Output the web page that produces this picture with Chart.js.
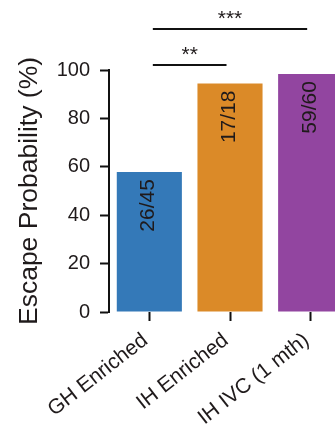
<!DOCTYPE html>
<html>
<head>
<meta charset="utf-8">
<script src="https://cdn.jsdelivr.net/npm/chart.js@4"></script>
<style>
  html, body { margin: 0; padding: 0; overflow: hidden; background: #fff; }
  #wrap { width: 335px; height: 434px; overflow: hidden; }
  canvas { display: block; }
</style>
</head>
<body>
<div id="wrap"><canvas id="c" width="351" height="434"></canvas></div>
<script>
// ---- data ----
const categories = ['GH Enriched', 'IH Enriched', 'IH IVC (1 mth)'];
const escapeProbability = [57.8, 94.4, 98.3];
const barLabels = ['26/45', '17/18', '59/60'];
const barColors = ['#3479b8', '#db8a28', '#9245a0'];
const yTicks = [0, 20, 40, 60, 80, 100];
const sigFrom = [0, 0];
const sigTo = [1, 2];
const sigHeights = [102, 117];
const sigLabels = ['**', '***'];

const textColor = '#1f1a1b';
const lineColor = '#111111';
const FONT = '"Liberation Sans", Arial, Helvetica, sans-serif';

const annotate = {
  id: 'annotate',
  afterDatasetsDraw(chart) {
    const ctx = chart.ctx;
    const x = chart.scales.x, y = chart.scales.y;
    const meta = chart.getDatasetMeta(0);
    ctx.save();
    ctx.fillStyle = textColor;
    ctx.font = '21px ' + FONT;
    meta.data.forEach((bar, i) => {
      ctx.save();
      ctx.translate(bar.x + 5, bar.y + 7);
      ctx.rotate(-Math.PI / 2);
      ctx.textAlign = 'right';
      ctx.textBaseline = 'alphabetic';
      ctx.fillText(barLabels[i], 0, 0);
      ctx.restore();
    });
    ctx.restore();
    ctx.save();
    ctx.strokeStyle = lineColor;
    ctx.lineWidth = 2;
    ctx.fillStyle = textColor;
    ctx.font = '21px ' + FONT;
    ctx.textAlign = 'center';
    ctx.textBaseline = 'alphabetic';
    for (let k = 0; k < sigLabels.length; k++) {
      const x1 = x.getPixelForValue(sigFrom[k]) + 3.5;
      const x2 = x.getPixelForValue(sigTo[k]) - 3.5;
      const yy = Math.round(y.getPixelForValue(sigHeights[k]));
      ctx.beginPath();
      ctx.moveTo(x1, yy);
      ctx.lineTo(x2, yy);
      ctx.stroke();
      ctx.fillText(sigLabels[k], (x1 + x2) / 2, yy - 4);
    }
    ctx.restore();
  }
};

new Chart(document.getElementById('c'), {
  type: 'bar',
  data: {
    labels: categories,
    datasets: [{
      data: escapeProbability,
      backgroundColor: barColors,
      borderWidth: 0,
      categoryPercentage: 1,
      barPercentage: 0.807
    }]
  },
  options: {
    responsive: false,
    animation: false,
    devicePixelRatio: 1,
    layout: { padding: { top: 70, left: 0, right: 0, bottom: 0 } },
    plugins: { legend: { display: false }, tooltip: { enabled: false } },
    scales: {
      x: {
        offset: true,
        border: { display: false },
        grid: { display: true, drawOnChartArea: false, drawTicks: true, tickLength: 9, tickWidth: 2, tickColor: lineColor, offset: false },
        ticks: {
          color: textColor,
          font: { size: 21, family: FONT },
          minRotation: 38, maxRotation: 38,
          padding: 7,
          labelOffset: -4,
          autoSkip: false
        },
        afterFit(s) { s.height = 122; }
      },
      y: {
        min: 0, max: 100,
        afterBuildTicks(s) { s.ticks = yTicks.map(v => ({ value: v })); },
        border: { display: true, color: lineColor, width: 2 },
        grid: { display: true, drawOnChartArea: false, drawTicks: true, tickLength: 9, tickWidth: 2, tickColor: lineColor },
        ticks: { color: textColor, font: { size: 20, family: FONT }, padding: 10 },
        title: {
          display: true,
          text: 'Escape Probability (%)',
          color: textColor,
          font: { size: 26.5, family: FONT },
          padding: { top: 14, bottom: 0 }
        },
        afterFit(s) { s.width = 109; }
      }
    }
  },
  plugins: [annotate]
});
</script>
</body>
</html>
